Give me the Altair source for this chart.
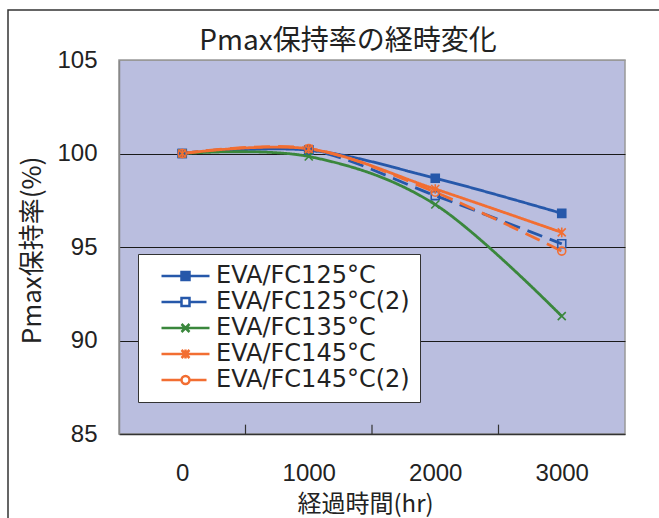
import altair as alt
import pandas as pd

# ---- data ----
hours = [0, 1000, 2000, 3000]
series = ["EVA/FC125°C", "EVA/FC125°C(2)", "EVA/FC135°C", "EVA/FC145°C", "EVA/FC145°C(2)"]
v125 = [100.0, 100.18, 98.68, 96.80]
v125b = [100.0, 100.20, 97.75, 95.17]
v135 = [100.0, 99.84, 97.27, 91.30]
v145 = [100.0, 100.25, 98.10, 95.78]
v145b = [100.0, 100.27, 97.93, 94.78]
y_ticks = [85, 90, 95, 100, 105]
x_ticks = [0, 1000, 2000, 3000]
x_dividers = [500, 1500, 2500]

# ---- styles ----
BLUE, GREEN, ORANGE = "#2658aa", "#3a873c", "#f26e32"
colors = [BLUE, BLUE, GREEN, ORANGE, ORANGE]
dashes = [[1, 0], [16, 8], [1, 0], [1, 0], [16, 8]]
fills = [BLUE, "transparent", "transparent", "transparent", "transparent"]
marker_paths = [
    "M-1,-1H1V1H-1Z",
    "M-1,-1H1V1H-1Z",
    "M-1,-1L1,1M-1,1L1,-1",
    "M-1,-1L1,1M-1,1L1,-1M0,-1.2V1.2",
    "circle",
]
legend_paths = [
    "M0.3,0H9.9M4.3,-0.8H5.9V0.8H4.3Z",
    "M0.3,0H4.3M5.9,0H9.3M4.3,-0.8H5.9V0.8H4.3Z",
    "M0.3,0H9.9M4.3,-0.8L5.9,0.8M4.3,0.8L5.9,-0.8",
    "M0.3,0H9.9M4.3,-0.8L5.9,0.8M4.3,0.8L5.9,-0.8M5.1,-0.9V0.9",
    "M0.3,0H4.3M5.9,0H9.3M4.3,0A0.8,0.8,0,1,0,5.9,0A0.8,0.8,0,1,0,4.3,0",
]

rows = []
for name, vals in zip(series, [v125, v125b, v135, v145, v145b]):
    for h, v in zip(hours, vals):
        rows.append({"series": name, "hr": h, "val": v})
df = pd.DataFrame(rows)
df_div = pd.DataFrame({"hr": x_dividers, "val": [85] * 3, "val2": [85.5] * 3})
df_frame = pd.DataFrame({"k": [0]})

JP = "Noto Sans CJK JP"
LAT = "Liberation Sans"

x_enc = alt.X(
    "hr:Q",
    scale=alt.Scale(domain=[-500, 3500], nice=False, zero=False),
    axis=alt.Axis(
        values=x_ticks, format="d", title="経過時間(hr)",
        titleFont=JP, titleFontSize=24, titleFontWeight="normal", titleColor="#222",
        titleX=246, titleY=77, titleAlign="center", titleBaseline="alphabetic",
        labelFont=LAT, labelFontSize=24, labelColor="#222", labelPadding=27,
        labelFlush=False, labelOverlap=False,
        ticks=False, tickSize=0, grid=False,
        domain=True, domainColor="#333", domainWidth=1.5,
    ),
)
y_enc = alt.Y(
    "val:Q",
    scale=alt.Scale(domain=[85, 105], nice=False, zero=False),
    axis=alt.Axis(
        values=y_ticks, title="Pmax保持率(%)",
        titleFont=JP, titleFontSize=26, titleFontWeight="normal", titleColor="#222",
        titleAngle=270, titleX=-79, titleY=190, titleAlign="center", titleBaseline="alphabetic",
        labelFont=LAT, labelFontSize=24, labelColor="#222", labelPadding=22,
        ticks=False, tickSize=0,
        domain=True, domainColor="#888", domainWidth=1.5,
        grid=True, gridWidth=1,
        gridColor={"condition": {"test": "datum.value == 105 || datum.value == 85", "value": "#999"}, "value": "#1a1a1a"},
    ),
)

stroke_enc = alt.Stroke("series:N", scale=alt.Scale(domain=series, range=colors), legend=None)
fill_enc = alt.Fill("series:N", scale=alt.Scale(domain=series, range=fills), legend=None)

frame = alt.Chart(df_frame).mark_rect(fill="transparent", stroke="#333", strokeWidth=1.5).encode(
    x=alt.value(-111), x2=alt.value(600), y=alt.value(-50), y2=alt.value(500)
)

dividers = alt.Chart(df_div).mark_rule(color="#333", strokeWidth=1.2).encode(
    x=x_enc, y=y_enc, y2="val2:Q"
)

lines = alt.Chart(df).mark_line(interpolate="cardinal", strokeWidth=2.8).encode(
    x=x_enc, y=y_enc,
    color=alt.Color("series:N", scale=alt.Scale(domain=series, range=colors), legend=None),
    strokeDash=alt.StrokeDash("series:N", scale=alt.Scale(domain=series, range=dashes), legend=None),
    detail="series:N",
)

points = alt.Chart(df).mark_point(size=64, strokeWidth=1.6, opacity=1).encode(
    x=x_enc, y=y_enc,
    shape=alt.Shape("series:N", scale=alt.Scale(domain=series, range=marker_paths), legend=None),
    stroke=stroke_enc,
    fill=fill_enc,
)

stroke_expr = ("datum.value == 'EVA/FC135°C' ? '%s' : (indexof(datum.value, '145') >= 0 ? '%s' : '%s')"
               % (GREEN, ORANGE, BLUE))
fill_expr = "datum.value == 'EVA/FC125°C' ? '%s' : '#ffffff'" % BLUE

legend_layer = alt.Chart(df).transform_filter("false").mark_point(opacity=1).encode(
    x=x_enc, y=y_enc,
    stroke=stroke_enc,
    fill=fill_enc,
    shape=alt.Shape(
        "series:N",
        scale=alt.Scale(domain=series, range=legend_paths),
        legend=alt.Legend(
            title=None, orient="none", legendX=19, legendY=194, padding=10,
            fillColor="white", strokeColor="#333",
            labelFont="DejaVu Sans", labelFontSize=24, labelColor="#222",
            labelOffset=44, symbolSize=100, symbolStrokeWidth=2.5,
            symbolOffset=0, rowPadding=2, labelLimit=400, symbolOpacity=1,
            symbolStrokeColor={"expr": stroke_expr},
            symbolFillColor={"expr": fill_expr},
        ),
    ),
)

chart = (
    alt.layer(frame, dividers, lines, points, legend_layer)
    .resolve_scale(shape="independent")
    .properties(
        width=506,
        height=374,
        background="white",
        title=alt.TitleParams(
            "Pmax保持率の経時変化", font=JP, fontSize=28, fontWeight="normal", color="#222",
            anchor="middle", frame="group", offset=-69, baseline="alphabetic", dx=-24,
        ),
        autosize=alt.AutoSizeParams(type="none"),
        padding={"left": 119, "top": 60, "right": 34, "bottom": 84},
    )
    .configure_view(fill="#babedf", stroke="#999", strokeWidth=1.5)
)

chart.save("out.html", embed_options={"renderer": "svg", "actions": False})
